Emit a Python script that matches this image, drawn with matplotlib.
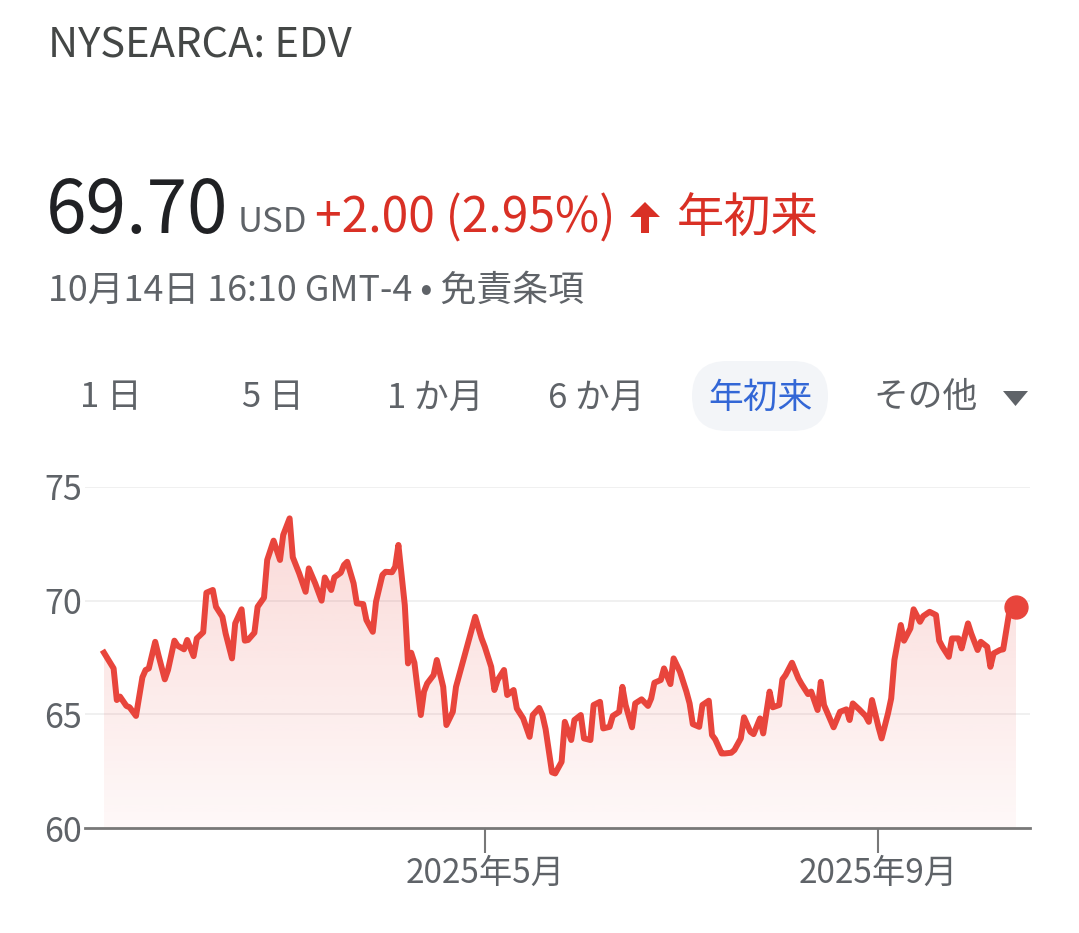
import numpy as np
import pandas as pd
import matplotlib
matplotlib.use("Agg")
import matplotlib.pyplot as plt
import matplotlib.dates as mdates
from matplotlib.patches import FancyBboxPatch, Polygon
from matplotlib.colors import to_rgb

plt.rcParams['font.family'] = ['Noto Sans CJK JP', 'DejaVu Sans']

# ---------------- data ----------------
ticker = "NYSEARCA: EDV"
price_text = "69.70"
currency = "USD"
change_text = "+2.00 (2.95%)"
period_label = "年初来"
timestamp_text = "10月14日 16:10 GMT-4 • 免責条項"
tabs = ["1 日", "5 日", "1 か月", "6 か月", "年初来", "その他"]
start_date = "2025-01-02"
# days since 2 Jan 2025
day_offsets = [0, 3, 4, 5, 7, 8, 10, 12, 13, 14, 16, 17, 19, 20, 22, 23, 25, 26, 28, 29,
               31, 32, 34, 35, 37, 38, 40, 41, 43, 44, 45, 47, 48, 50, 51, 53, 55, 56, 58, 59,
               61, 63, 64, 66, 68, 69, 71, 72, 74, 75, 76, 78, 79, 81, 82, 84, 85, 87, 88, 90,
               91, 92, 94, 95, 96, 97, 99, 100, 101, 103, 104, 106, 107, 109, 110, 112, 114, 116, 118, 119,
               121, 122, 123, 125, 126, 128, 129, 131, 133, 134, 136, 137, 138, 140, 141, 143, 144, 146, 147, 149,
               150, 152, 153, 155, 156, 158, 159, 161, 162, 163, 165, 166, 168, 170, 171, 172, 174, 175, 177, 178,
               180, 182, 183, 184, 186, 187, 189, 190, 191, 193, 194, 196, 197, 199, 200, 202, 203, 205, 206, 208,
               209, 211, 212, 213, 215, 217, 218, 220, 221, 223, 224, 225, 227, 228, 230, 232, 233, 234, 236, 238,
               239, 240, 242, 243, 245, 246, 247, 249, 250, 252, 253, 255, 256, 258, 260, 261, 262, 264, 265, 267,
               268, 270, 271, 273, 274, 276, 277, 278, 280, 281, 283, 285]
prices = [67.71, 67.02, 65.63, 65.78, 65.37, 65.31, 64.93, 66.63, 66.95, 67.02, 68.19, 67.61, 66.54, 66.95, 68.24, 68.02, 67.86, 68.27, 67.56, 68.34,
          68.61, 70.35, 70.47, 69.73, 69.29, 68.56, 67.46, 69.00, 69.62, 68.24, 68.27, 68.59, 69.73, 70.13, 71.79, 72.64, 71.79, 72.89, 73.62, 71.91,
          71.20, 70.39, 71.42, 70.76, 70.00, 71.02, 70.47, 71.03, 71.23, 71.57, 71.71, 70.76, 69.88, 69.85, 69.15, 68.63, 69.95, 71.13, 71.27, 71.25,
          71.49, 72.45, 69.80, 67.24, 67.71, 67.27, 64.97, 66.00, 66.36, 66.73, 67.39, 66.21, 64.53, 65.11, 66.21, 67.24, 68.27, 69.29, 68.34, 67.97,
          67.09, 66.07, 66.51, 66.95, 65.85, 66.07, 65.26, 64.82, 64.01, 64.97, 65.28, 64.97, 64.35, 62.45, 62.40, 62.91, 64.67, 63.87, 64.75, 64.97,
          63.94, 63.87, 65.41, 65.55, 64.38, 64.45, 64.93, 65.11, 66.21, 65.41, 64.43, 65.48, 65.66, 65.37, 65.70, 66.39, 66.51, 67.02, 66.33, 67.46,
          66.87, 66.00, 65.48, 64.57, 64.45, 65.41, 65.60, 64.09, 63.90, 63.28, 63.28, 63.31, 63.43, 63.94, 64.87, 64.23, 64.13, 64.82, 64.16, 66.00,
          65.31, 65.41, 66.54, 66.73, 67.27, 66.58, 66.33, 65.89, 66.00, 65.19, 66.43, 65.41, 64.75, 64.43, 65.11, 65.22, 64.75, 65.48, 65.22, 64.93,
          64.67, 65.63, 64.45, 63.94, 65.04, 65.70, 67.39, 68.93, 68.24, 68.78, 69.62, 69.07, 69.32, 69.51, 69.37, 68.24, 67.97, 67.53, 68.34, 68.34,
          67.90, 69.00, 68.56, 67.83, 68.19, 67.97, 67.09, 67.68, 67.83, 67.86, 69.59, 69.70]
y_ticks = [60, 65, 70, 75]
x_tick_dates = ["2025-05-01", "2025-09-01"]
x_tick_labels = ["2025年5月", "2025年9月"]

# ---------------- style ----------------
W, H = 1079, 933
RED = "#e8453c"
RED_TXT = "#d93025"
DARK = "#202124"
GREY = "#5f6368"
AXIS = "#787878"
BLUE = "#3367d6"

fig = plt.figure(figsize=(W / 100, H / 100), dpi=100)
fig.patch.set_facecolor("white")


def px(x, y):
    return x / W, 1 - y / H


def ftext(x, y, s, **kw):
    fx, fy = px(x, y)
    fig.text(fx, fy, s, **kw)


# header
ftext(48, 57, ticker, fontsize=30, color="#444746", va="baseline", ha="left")
ftext(46, 233, price_text, fontsize=52.5, color=DARK, va="baseline", ha="left")
ftext(238, 232, currency, fontsize=25, color=GREY, va="baseline", ha="left")
ftext(315, 232, change_text, fontsize=34.5, color=RED_TXT, va="baseline", ha="left")
ftext(677, 232, period_label, fontsize=34, color=RED_TXT, va="baseline", ha="left")

# arrow glyph
ax_c = 645
arrow = Polygon(np.array([[ax_c - 4, 233], [ax_c + 4, 233], [ax_c + 4, 217], [ax_c + 15, 217],
                          [ax_c, 202], [ax_c - 15, 217], [ax_c - 4, 217]]) * [1, -1] / 100 + [0, H / 100],
                closed=True, transform=fig.dpi_scale_trans, facecolor=RED_TXT, edgecolor="none")
fig.patches.append(arrow)

ftext(48, 301, timestamp_text, fontsize=25.8, color=GREY, va="baseline", ha="left")

# tabs
pill = FancyBboxPatch((692 / 100, (H - 431) / 100), 136 / 100, 70 / 100,
                      boxstyle="round,pad=0,rounding_size=0.35",
                      transform=fig.dpi_scale_trans, facecolor="#f3f5f8", edgecolor="none")
fig.patches.append(pill)
tab_x = [80, 242, 387, 548, 708, 873]
for t, x in zip(tabs, tab_x):
    col = BLUE if t == period_label else GREY
    ftext(x, 398, t, fontsize=25, color=col, va="center", ha="left")
tri = Polygon(np.array([[1003, 391], [1028, 391], [1015.5, 406]]) * [1, -1] / 100 + [0, H / 100],
              closed=True, transform=fig.dpi_scale_trans, facecolor=GREY, edgecolor="none")
fig.patches.append(tri)

# ---------------- chart ----------------
left, right, top, bottom = 85, 1030, 487, 828
ax = fig.add_axes([left / W, 1 - bottom / H, (right - left) / W, (bottom - top) / H])

base = pd.Timestamp(start_date)
dates = base + pd.to_timedelta(day_offsets, unit="D")
xnum = mdates.date2num(dates.to_pydatetime())

px_per_day = (1016 - 104) / day_offsets[-1]
x0 = xnum[0] - (104 - left) / px_per_day
x1 = xnum[-1] + (right - 1016) / px_per_day

for v in y_ticks[1:]:
    ax.axhline(v, color="#efefef", lw=1.3, zorder=0)

# gradient fill
poly = ax.fill_between(xnum, prices, 60, facecolor="none", edgecolor="none")
n = 256
img = np.zeros((n, 1, 4))
img[..., :3] = to_rgb(RED)
img[..., 3] = np.linspace(0.20, 0.035, n)[:, None]
ymax = max(prices)
im = ax.imshow(img, extent=[xnum[0], xnum[-1], 60, ymax], aspect="auto", origin="upper",
               zorder=1, interpolation="bilinear")
im.set_clip_path(poly.get_paths()[0], transform=ax.transData)
ax.set_xlim(x0, x1)
ax.set_ylim(60, 75)

ax.plot(xnum, prices, color=RED, lw=4.3, solid_joinstyle="round", zorder=3)
ax.plot([xnum[-1]], [prices[-1]], "o", color=RED, markersize=16.5, zorder=4)

for s in ["top", "right", "left"]:
    ax.spines[s].set_visible(False)
ax.spines["bottom"].set_color(AXIS)
ax.spines["bottom"].set_linewidth(2.0)

ax.set_yticks(y_ticks)
ax.set_yticklabels([str(v) for v in y_ticks])
ax.tick_params(axis="y", length=0, pad=2, labelsize=24.5, labelcolor=GREY)
ax.set_xticks(mdates.date2num(pd.to_datetime(x_tick_dates).to_pydatetime()))
ax.set_xticklabels(x_tick_labels)
ax.tick_params(axis="x", direction="out", length=18, width=1.5, color=AXIS, pad=2,
               labelsize=24, labelcolor=GREY)
ax.set_facecolor("none")

fig.savefig("out.png", dpi=100)
